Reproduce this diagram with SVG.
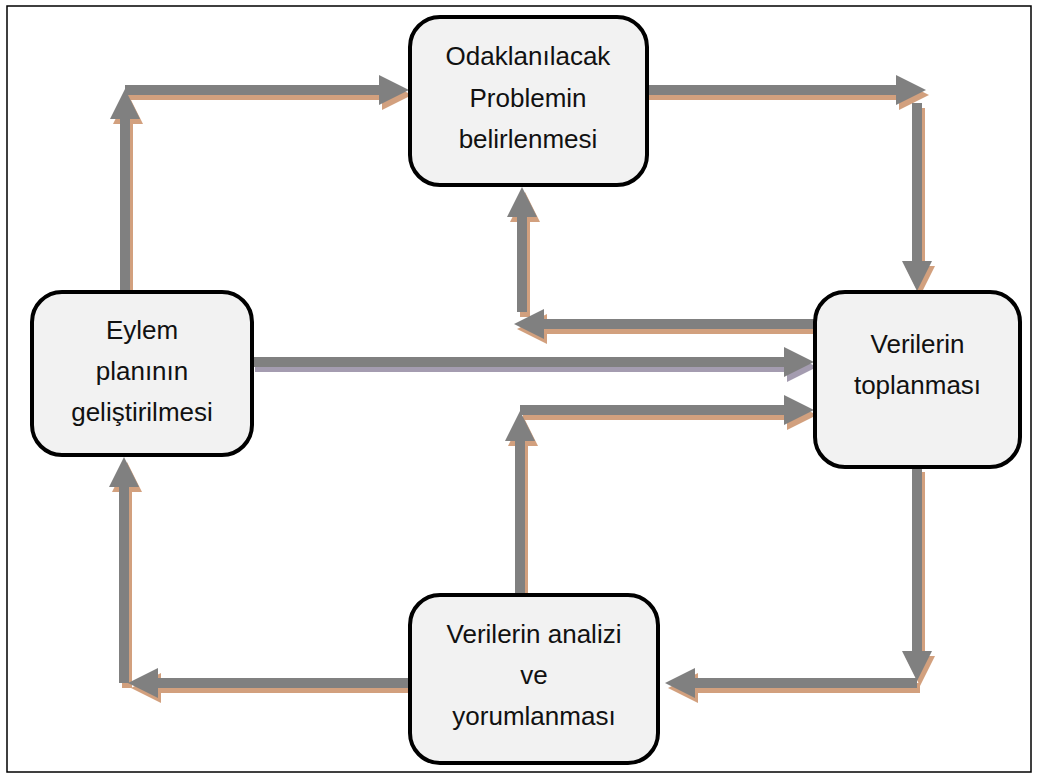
<svg xmlns="http://www.w3.org/2000/svg" width="1038" height="774" viewBox="0 0 1038 774">
<style>
.frame{fill:none;stroke:#000;stroke-width:1.5}
.box{fill:#f2f2f2;stroke:#000;stroke-width:4}
.lbl{font-family:"Liberation Sans",Arial,sans-serif;font-size:26px;fill:#111;text-anchor:middle}
.sh{stroke:#d2a07e;stroke-width:10;fill:none;marker-end:url(#hs)}
.shp{stroke:#a49cb0;stroke-width:10;fill:none;marker-end:url(#hp)}
.ar{stroke:#808080;stroke-width:10;fill:none;marker-end:url(#hg)}
</style>
<defs>
<marker id="hg" markerUnits="userSpaceOnUse" markerWidth="32" markerHeight="32" refX="1" refY="15" orient="auto" viewBox="0 0 32 32"><path d="M0,0 L30,15 L0,30 Z" fill="#808080"/></marker>
<marker id="hs" markerUnits="userSpaceOnUse" markerWidth="32" markerHeight="32" refX="1" refY="15" orient="auto" viewBox="0 0 32 32"><path d="M0,0 L30,15 L0,30 Z" fill="#d2a07e"/></marker>
<marker id="hp" markerUnits="userSpaceOnUse" markerWidth="32" markerHeight="32" refX="1" refY="15" orient="auto" viewBox="0 0 32 32"><path d="M0,0 L30,15 L0,30 Z" fill="#a49cb0"/></marker>
</defs>
<rect class="frame" x="7" y="6" width="1024" height="766"/>
<g id="connectors">
<g id="shadows" transform="translate(3,5)">
<path class="sh" d="M125,292 V118"/>
<path class="sh" d="M125,90 H380"/>
<path class="sh" d="M646,90 H897"/>
<path class="sh" d="M917,103 V262"/>
<path class="sh" d="M815,324 H543"/>
<path class="sh" d="M522,312 V216"/>
<path class="shp" d="M252,362 H785"/>
<path class="sh" d="M520,595 V440"/>
<path class="sh" d="M520,410 H785"/>
<path class="sh" d="M917,467 V652"/>
<path class="sh" d="M917,683 H694"/>
<path class="sh" d="M410,683 H157"/>
<path class="sh" d="M124,683 V486"/>
</g>
<path class="ar" d="M125,292 V118"/>
<path class="ar" d="M125,90 H380"/>
<path class="ar" d="M646,90 H897"/>
<path class="ar" d="M917,103 V262"/>
<path class="ar" d="M815,324 H543"/>
<path class="ar" d="M522,312 V216"/>
<path class="ar" d="M252,362 H785"/>
<path class="ar" d="M520,595 V440"/>
<path class="ar" d="M520,410 H785"/>
<path class="ar" d="M917,467 V652"/>
<path class="ar" d="M917,683 H694"/>
<path class="ar" d="M410,683 H157"/>
<path class="ar" d="M124,683 V486"/>
</g>
<g id="node-problem">
<rect class="box" x="410" y="17" width="237" height="168" rx="30"/>
<text class="lbl" x="528" y="65">Odaklanılacak</text>
<text class="lbl" x="528" y="106.5">Problemin</text>
<text class="lbl" x="528" y="147.5">belirlenmesi</text>
</g>
<g id="node-eylem">
<rect class="box" x="32" y="292" width="220" height="163" rx="30"/>
<text class="lbl" x="142" y="339">Eylem</text>
<text class="lbl" x="142" y="380">planının</text>
<text class="lbl" x="142" y="421">geliştirilmesi</text>
</g>
<g id="node-toplanma">
<rect class="box" x="815" y="292" width="205" height="175" rx="30"/>
<text class="lbl" x="917.5" y="353">Verilerin</text>
<text class="lbl" x="917.5" y="394">toplanması</text>
</g>
<g id="node-analiz">
<rect class="box" x="410" y="595" width="248" height="168" rx="30"/>
<text class="lbl" x="534" y="643">Verilerin analizi</text>
<text class="lbl" x="534" y="684">ve</text>
<text class="lbl" x="534" y="725">yorumlanması</text>
</g>
</svg>
